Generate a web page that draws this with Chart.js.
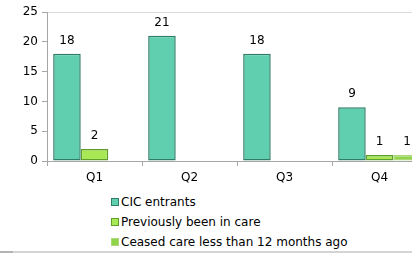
<!DOCTYPE html>
<html lang="en">
<head>
    <meta charset="UTF-8">
    <title>CIC entrants by quarter</title>
    <script src="https://cdn.jsdelivr.net/npm/chart.js"></script>
    <style>
        body { margin: 0; background: #fff; font-family: "DejaVu Sans", sans-serif; }
        #wrap { position: relative; width: 412px; height: 254px; overflow: hidden; }
        #chartBox { position: absolute; left: 0; top: 0; width: 412px; height: 186px; overflow: hidden; }
        #legend { position: absolute; left: 111px; top: 194px; font-size: 12px; color: #000; }
        .item { height: 20px; line-height: 16px; white-space: nowrap; }
        .sw { display: inline-block; width: 6px; height: 6px; margin-right: 2px; }
        #baseLine { position: absolute; left: 0; top: 251px; width: 412px; height: 2px; background: #d4d4d4; }
        #baseLine span { position: absolute; left: 0; top: 0; width: 13px; height: 2px; background: #b4b4b4; }
    </style>
</head>
<body>
<div id="wrap">
    <div id="chartBox"><canvas id="chart" width="430" height="186" style="width:430px;height:186px"></canvas></div>
    <div id="legend"></div>
    <div id="baseLine"><span></span></div>
</div>
<script>
    // values
    const quarters = ['Q1', 'Q2', 'Q3', 'Q4'];
    const seriesNames = ['CIC entrants', 'Previously been in care', 'Ceased care less than 12 months ago'];
    const cicEntrants = [18, 21, 18, 9];
    const previouslyInCare = [2, 0, 0, 1];
    const ceasedCare = [0, 0, 0, 1];
    const yTicks = [0, 5, 10, 15, 20, 25];

    const fills = ['#5fcfb0', '#a8e855', '#90d44c'];
    const borders = ['#2f7d66', '#5e9e2c', '#acd87a'];

    // value labels above each bar (zeros are not labelled)
    const valueLabels = {
        id: 'valueLabels',
        afterDatasetsDraw(chart) {
            const ctx = chart.ctx;
            ctx.save();
            ctx.font = '12px "DejaVu Sans", sans-serif';
            ctx.fillStyle = '#000';
            ctx.textAlign = 'center';
            ctx.textBaseline = 'bottom';
            chart.data.datasets.forEach((ds, i) => {
                chart.getDatasetMeta(i).data.forEach((bar, j) => {
                    if (!ds.data[j]) return;
                    ctx.fillText(ds.data[j], bar.x, bar.y - 7);
                });
            });
            ctx.restore();
        }
    };

    const series = [cicEntrants, previouslyInCare, ceasedCare];
    new Chart(document.getElementById('chart'), {
        type: 'bar',
        data: {
            labels: quarters,
            datasets: series.map((vals, i) => ({
                label: seriesNames[i],
                data: vals,
                backgroundColor: fills[i],
                borderColor: borders[i],
                borderWidth: c => (c.raw ? 1.5 : 0),
                borderSkipped: false,
                categoryPercentage: 0.87,
                barPercentage: 1.0
            }))
        },
        options: {
            responsive: false,
            animation: false,
            layout: { padding: { top: 12, right: 3, left: 0, bottom: 0 } },
            plugins: { legend: { display: false }, tooltip: { enabled: false } },
            scales: {
                x: {
                    grid: { offset: true, drawOnChartArea: false, tickLength: 5, color: '#a6a6a6' },
                    border: { color: '#a6a6a6' },
                    ticks: { color: '#000', font: { family: 'DejaVu Sans', size: 12 }, padding: 5 },
                    afterFit: s => { s.height = 25; }
                },
                y: {
                    min: 0, max: 25,
                    afterBuildTicks: s => { s.ticks = yTicks.map(v => ({ value: v })); },
                    grid: {
                        color: c => (c.tick && c.tick.value === 25 ? '#d9d9d9' : 'rgba(0,0,0,0)'),
                        tickColor: '#a6a6a6',
                        tickLength: 5
                    },
                    border: { color: '#a6a6a6' },
                    ticks: { color: '#000', font: { family: 'DejaVu Sans', size: 12 }, padding: 4 },
                    afterFit: s => { s.width = 47; }
                }
            }
        },
        plugins: [valueLabels]
    });

    // legend, one entry per line
    const legend = document.getElementById('legend');
    seriesNames.forEach((name, i) => {
        const row = document.createElement('div');
        row.className = 'item';
        row.innerHTML = `<span class="sw" style="background:${fills[i]};border:1px solid ${borders[i]}"></span>${name}`;
        legend.appendChild(row);
    });
</script>
</body>
</html>
